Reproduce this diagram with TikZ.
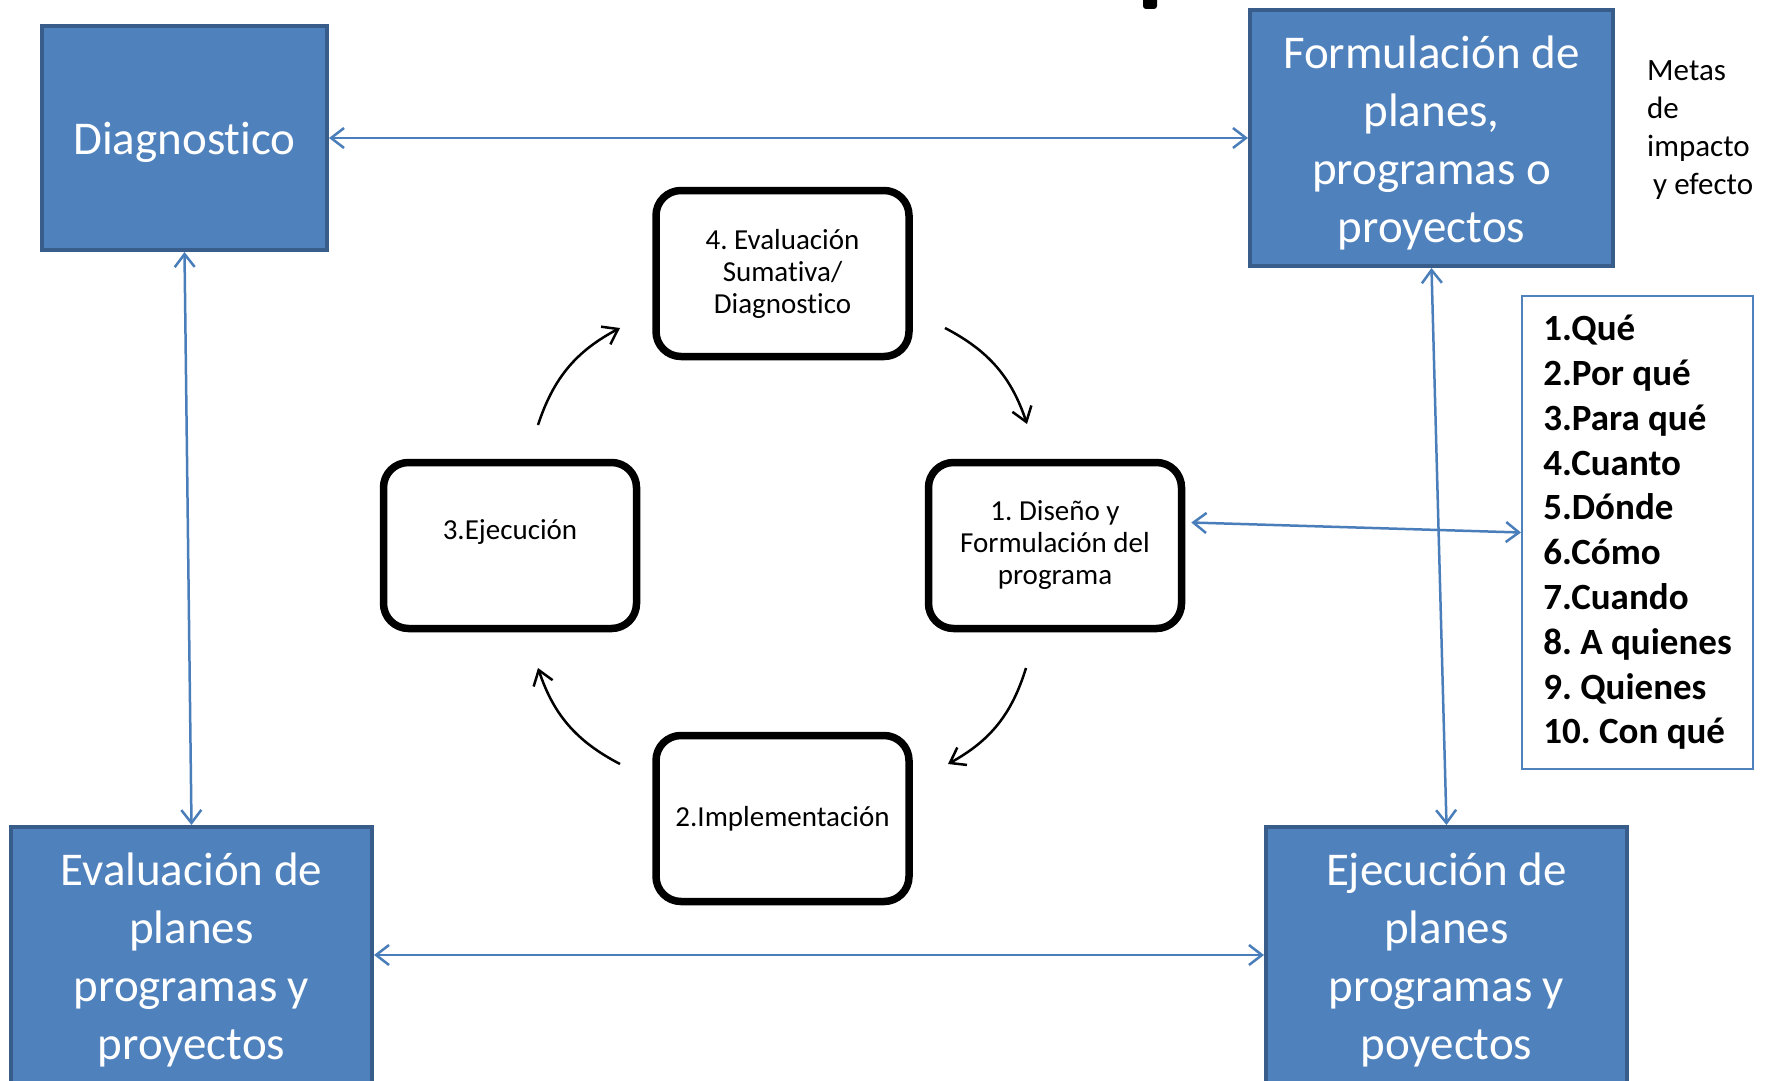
\documentclass[tikz,border=0pt]{standalone}
\usepackage{fontspec}
\setmainfont{Carlito}[Ligatures=NoCommon]
\usetikzlibrary{arrows.meta}
\definecolor{boxblue}{HTML}{4F81BD}
\definecolor{boxedge}{HTML}{385D8A}
\definecolor{linkblue}{HTML}{4A7EBB}
\frenchspacing
\begin{document}
\begin{tikzpicture}[x=1pt,y=-1pt,
  bluebox/.style={draw=boxedge, line width=4pt, fill=boxblue, inner sep=0pt},
  boxtext/.style={text=white, align=center, font=\fontsize{47}{57.7}\selectfont, inner sep=0pt},
  stagebox/.style={draw=black, line width=7.5pt, rounded corners=25pt, fill=white,
    minimum width=253pt, minimum height=166pt, align=center,
    font=\fontsize{29}{32}\selectfont, inner sep=0pt},
  bluelink/.style={draw=linkblue, line width=2.5pt,
    {Straight Barb[length=13pt,width=20pt]}-{Straight Barb[length=13pt,width=20pt]}},
  cyclearrow/.style={draw=black, line width=2.5pt, -{Straight Barb[length=14pt,width=20pt]}, bend left=22}
]
\useasboundingbox (0,0) rectangle (1773,1081);
\fill[white] (0,0) rectangle (1773,1081);

% cut-off mark at top
\fill[black, rounded corners=3pt] (1143,-5) rectangle (1157,9);

% blue boxes
\node[bluebox, minimum width=285pt, minimum height=224pt] (diag) at (184.5,138) {};
\node[boxtext] (diagt) at ([yshift=-4.5pt]diag.center) {Diagnostico};
\node[bluebox, minimum width=363pt, minimum height=256pt] (form) at (1431.5,138) {};
\node[boxtext] (formt) at ([yshift=-5pt]form.center) {Formulación de\\planes,\\programas o\\proyectos};
\node[bluebox, minimum width=361pt, minimum height=256pt] (evalp) at (191.5,955) {};
\node[boxtext] (evalpt) at ([yshift=-5pt]evalp.center) {Evaluación de\\planes\\programas y\\proyectos};
\node[bluebox, minimum width=361pt, minimum height=256pt] (ejec) at (1446.5,955) {};
\node[boxtext] (eject) at ([yshift=-5pt]ejec.center) {Ejecución de\\planes\\programas y\\poyectos};

% side text
\node[anchor=west, align=left, inner sep=0pt, font=\fontsize{31}{38}\selectfont] (metas) at (1647,130.5)
  {Metas\\de\\impacto\\\hspace*{6pt}y efecto};

% list box
\node[draw=boxblue, line width=2pt, fill=white, minimum width=231pt, minimum height=473pt,
  align=left, inner sep=0pt,
  font=\bfseries\fontsize{37}{44.8}\selectfont] (list) at (1637.5,532.5)
  {1.Qué\\2.Por qué\\3.Para qué\\4.Cuanto\\5.Dónde\\6.Cómo\\7.Cuando\\8. A quienes\\9. Quienes\\10. Con qué};

% stage boxes
\node[stagebox] (s4) at (782.5,273.5) {4. Evaluación\\Sumativa/\\Diagnostico};
\node[stagebox] (s3) at (510,545.5) {3.Ejecución\\\mbox{}};
\node[stagebox] (s1) at (1055,545.5) {1. Diseño y\\Formulación del\\programa};
\node[stagebox] (s2) at (782.5,818.5) {2.Implementación};

% blue connectors
\draw[bluelink] (diag.east) -- (form.west);
\draw[bluelink] (diag.south) -- (evalp.north);
\draw[bluelink] (form.south) -- (ejec.north);
\draw[bluelink] (evalp.east) -- (ejec.west);
\draw[bluelink] ([xshift=6pt,yshift=23pt]s1.east) -- (list.west);

% cycle arrows
\coordinate (c34a) at (538,425); \coordinate (c34b) at (620,328);
\coordinate (c41a) at (945,328); \coordinate (c41b) at (1027,424);
\coordinate (c12a) at (1026,668); \coordinate (c12b) at (948,764);
\coordinate (c23a) at (620,764); \coordinate (c23b) at (538,668);
\draw[cyclearrow] (c34a) to (c34b);
\draw[cyclearrow] (c41a) to (c41b);
\draw[cyclearrow] (c12a) to (c12b);
\draw[cyclearrow] (c23a) to (c23b);
\end{tikzpicture}
\end{document}
